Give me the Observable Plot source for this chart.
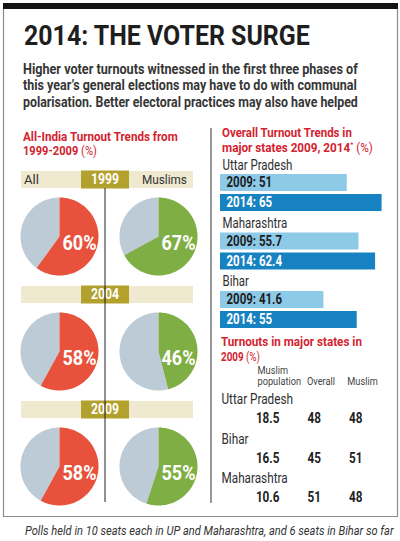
<!DOCTYPE html>
<html>
<head>
<meta charset="utf-8">
<script src="https://cdn.jsdelivr.net/npm/d3@7"></script>
<script src="https://cdn.jsdelivr.net/npm/@observablehq/plot@0.6"></script>
<style>
  html, body { margin: 0; padding: 0; background: #fff; }
  #page { position: relative; width: 400px; height: 541px; overflow: hidden; background: #fff;
          font-family: Roboto, "Liberation Sans", sans-serif; }
  #page svg { position: absolute; margin: 0; }
</style>
</head>
<body>
<div id="page"></div>
<script>
// All-India turnout (%) by general election
const pieYears = ["1999", "2004", "2009"];
const pieGroups = ["All", "Muslims"];
const turnoutAll = [60, 58, 58];
const turnoutMuslims = [67, 46, 55];

// Overall turnout (%) in major states, 2009 vs 2014
const barStates = ["Uttar Pradesh", "Maharashtra", "Bihar"];
const barYears = ["2009", "2014"];
const turnout2009 = [51, 55.7, 41.6];
const turnout2014 = [65, 62.4, 55];

// Turnout (%) in major states in 2009
const tableStates = ["Uttar Pradesh", "Bihar", "Maharashtra"];
const tableKeys = ["population", "overall", "muslim"];
const tableHeaders = ["Muslim\npopulation", "Overall", "Muslim"];
const muslimPopulation = [18.5, 16.5, 10.6];
const overallTurnout2009 = [48, 45, 51];
const muslimTurnout2009 = [48, 51, 48];

const RED = "#e8523c", GREEN = "#7fae45", GREY = "#bdcbd6";
const BAND = "#efe9cf", GOLD = "#b3a12e";
const BLUE_LIGHT = "#8dcae8", BLUE_DARK = "#1782c1";
const HEAD_RED = "#d2232f", INK = "#2e2e2e";
const FONT = "Roboto, 'Liberation Sans', sans-serif";

const page = document.getElementById("page");
function place(node, left, top) {
  node.style.left = left + "px";
  node.style.top = top + "px";
  page.appendChild(node);
  return node;
}
// squeeze one text element horizontally about its own anchor point
function squeeze(t, factor) {
  const x = parseFloat(t.getAttribute("x") || 0);
  const prev = t.getAttribute("transform") || "";
  t.setAttribute("transform", `${prev} translate(${x},0) scale(${factor},1) translate(${-x},0)`);
}
// squeeze every label of a chart to mimic a condensed face
function condense(root, factor) {
  root.querySelectorAll("text").forEach(t => squeeze(t, factor));
}

/* ---------- pies: All vs Muslims, one row per election ---------- */
const pieRows = pieYears.flatMap((year, i) => [
  {year, group: "All", value: turnoutAll[i]},
  {year, group: "Muslims", value: turnoutMuslims[i]}
]);
// closed wedge outline between two percentages, clockwise from 12 o'clock
function wedge(d, from, to, part) {
  const key = `${d.year}-${d.group}-${part}`;
  const steps = Math.max(2, Math.ceil((to - from) * 1.8));
  const pts = [{...d, key, part, px: 0, py: 0}];
  for (let k = 0; k <= steps; ++k) {
    const a = (from + (to - from) * k / steps) / 100 * 2 * Math.PI;
    pts.push({...d, key, part, px: Math.sin(a), py: Math.cos(a)});
  }
  pts.push({...d, key, part, px: 0, py: 0});
  return pts;
}
const wedges = pieRows.flatMap(d => [
  ...wedge(d, d.value, 100, "rest"),
  ...wedge(d, 0, d.value, d.group)
]);

const PIE_TOP = 190;
const pies = Plot.plot({
  width: 210, height: 320,
  marginLeft: 20, marginRight: 13, marginTop: 7, marginBottom: 5,
  style: {background: "transparent", overflow: "visible", fontFamily: FONT},
  x: {domain: [-1, 1], axis: null},
  y: {domain: [-1, 1], axis: null},
  fx: {domain: pieGroups, paddingInner: 21 / 99, paddingOuter: 0, round: false, axis: null},
  fy: {domain: pieYears, paddingInner: 37 / 115, paddingOuter: 0, round: false, axis: null},
  color: {domain: ["All", "Muslims", "rest"], range: [RED, GREEN, GREY]},
  marks: [
    Plot.line(wedges, {fx: "group", fy: "year", x: "px", y: "py", z: "key", fill: "part", stroke: "none"}),
    Plot.text(pieRows, {fx: "group", fy: "year", frameAnchor: "middle", text: d => `${d.value}%`,
      dx: 20, dy: 7, fill: "white", fontSize: 20, fontWeight: "bold"})
  ]
});
place(pies, 0, PIE_TOP);

/* ---------- bars: state turnout 2009 vs 2014 ---------- */
const bars = barStates.flatMap((state, i) => [
  {state, year: "2009", value: turnout2009[i]},
  {state, year: "2014", value: turnout2014[i]}
]);
const barChart = Plot.plot({
  width: 182, height: 182,
  marginLeft: 8, marginRight: 0, marginTop: 24, marginBottom: 4,
  style: {background: "transparent", overflow: "visible", fontFamily: FONT},
  x: {domain: [0, 70], axis: null},
  y: {domain: barYears, paddingInner: 0.15, paddingOuter: 0, round: false, axis: null},
  fy: {domain: barStates, paddingInner: 0.3675, paddingOuter: 0, round: false, axis: null},
  color: {domain: barYears, range: [BLUE_LIGHT, BLUE_DARK]},
  marks: [
    Plot.barX(bars, {fy: "state", y: "year", x: "value", fill: "year"}),
    Plot.text(bars, {filter: d => d.year === barYears[0], fy: "state", y: "year", frameAnchor: "left",
      textAnchor: "start", dx: 6, text: d => `${d.year}: ${d.value}`, fill: "#1d1d1d", fontSize: 14, fontWeight: "bold"}),
    Plot.text(bars, {filter: d => d.year === barYears[1], fy: "state", y: "year", frameAnchor: "left",
      textAnchor: "start", dx: 6, text: d => `${d.year}: ${d.value}`, fill: "white", fontSize: 14, fontWeight: "bold"}),
    Plot.text(barStates, {fy: d => d, frameAnchor: "top-left", textAnchor: "start", lineAnchor: "bottom",
      text: d => d, dx: 2, dy: -5, fontSize: 14, fill: INK})
  ]
});
place(barChart, 212, 150);

/* ---------- table: 2009 turnout by state ---------- */
const cells = tableStates.flatMap((state, i) => [
  {state, key: tableKeys[0], value: muslimPopulation[i]},
  {state, key: tableKeys[1], value: overallTurnout2009[i]},
  {state, key: tableKeys[2], value: muslimTurnout2009[i]}
]);
const headers = tableKeys.map((key, i) => ({key, label: tableHeaders[i]}));
const table = Plot.plot({
  width: 186, height: 150,
  marginLeft: 9, marginRight: 0, marginTop: 22, marginBottom: 10,
  style: {background: "transparent", overflow: "visible", fontFamily: FONT},
  x: {type: "point", domain: tableKeys, range: [67, 150], padding: 0, round: false, axis: null},
  y: {type: "band", domain: tableStates, padding: 0, round: false, axis: null},
  marks: [
    // first header is set flush left, the others centred over their column
    Plot.text(headers.slice(0, 1), {x: "key", text: "label", frameAnchor: "top", lineAnchor: "bottom",
      textAnchor: "start", dx: -22, fontSize: 11, lineHeight: 1, fill: "#444"}),
    Plot.text(headers.slice(1), {x: "key", text: "label", frameAnchor: "top", lineAnchor: "bottom",
      textAnchor: "middle", fontSize: 11, lineHeight: 1, fill: "#444"}),
    Plot.text(tableStates, {y: d => d, text: d => d, frameAnchor: "left", textAnchor: "start",
      lineAnchor: "bottom", fontSize: 14, fill: INK}),
    Plot.text(cells, {x: "key", y: "state", text: d => String(d.value), textAnchor: "end",
      lineAnchor: "bottom", dy: 19, fontSize: 14, fontWeight: "bold", fill: "#222"})
  ]
});
place(table, 212, 362);

condense(pies, 0.9);
condense(barChart, 0.82);
condense(table, 0.84);

/* ---------- frame, headings, year bands and notes ---------- */
const svg = d3.create("svg").attr("width", 400).attr("height", 541)
  .style("left", "0px").style("top", "0px").style("pointer-events", "none")
  .style("font-family", FONT);

const fits = [];
function label(x, y, text, {size = 13, weight = "normal", fill = INK, width, italic = false, anchor = "start"} = {}) {
  const t = svg.append("text").attr("x", x).attr("y", y)
    .attr("font-size", size).attr("font-weight", weight).attr("fill", fill)
    .attr("font-style", italic ? "italic" : "normal").attr("text-anchor", anchor);
  if (text != null) t.text(text);
  if (width) fits.push([t.node(), width]);
  return t;
}

// box
svg.append("rect").attr("x", 3).attr("y", 3).attr("width", 395).attr("height", 6).attr("fill", "#141414");
svg.append("path").attr("d", "M3.5,9V516.5H397.5V9").attr("fill", "none").attr("stroke", "#8c8c8c").attr("stroke-width", 1.2);

// title and deck
label(24, 45, "2014: THE VOTER SURGE", {size: 27, weight: "bold", fill: "#1e1e1e", width: 286});
const deck = [
  "Higher voter turnouts witnessed in the first three phases of",
  "this year\u2019s general elections may have to do with communal",
  "polarisation. Better electoral practices may also have helped"
];
const deckWidths = [335, 334, 335];
deck.forEach((line, i) => label(23, 74 + i * 16.5, line, {size: 15, weight: "bold", fill: "#363636", width: deckWidths[i]}));

// section headings
function heading(x, y, main, tail, width, extra) {
  const t = label(x, y, null, {size: 13, weight: "bold", fill: HEAD_RED, width});
  t.append("tspan").text(main);
  if (extra) extra(t);
  if (tail) t.append("tspan").attr("font-weight", "normal").text(tail);
  return t;
}
heading(23, 141, "All-India Turnout Trends from", null, 155);
heading(23, 155, "1999-2009", " (%)", 74);
heading(222, 137, "Overall Turnout Trends in", null, 130);
heading(222, 152, "major states 2009, 2014", null, 151, t => {
  t.append("tspan").attr("font-size", 8).attr("font-weight", "normal").attr("dy", -5).text("*");
  t.append("tspan").attr("dy", 5).attr("font-weight", "normal").text(" (%)");
});
heading(221, 346, "Turnouts in major states in", null, 141);
heading(221, 361, "2009", " (%)", 39);

// year bands above each row of pies
const fyPie = pies.scale("fy");
pieYears.forEach((year, i) => {
  const top = PIE_TOP + fyPie.apply(year) - 26;
  svg.append("rect").attr("x", 21).attr("y", top).attr("width", 172).attr("height", 17).attr("fill", BAND);
  svg.append("rect").attr("x", 81).attr("y", top - 0.5).attr("width", 48).attr("height", 18).attr("fill", GOLD);
  label(105, top + 13.5, year, {size: 14, weight: "bold", fill: "#fff", width: 28, anchor: "middle"});
  if (i === 0) {
    label(24, top + 13.5, pieGroups[0], {size: 13, fill: "#333", width: 15});
    label(142, top + 13.5, pieGroups[1], {size: 13, fill: "#333", width: 45});
  }
});

// dividers
svg.append("line").attr("x1", 105).attr("x2", 105).attr("y1", 188).attr("y2", 502).attr("stroke", "#222").attr("stroke-width", 1);
svg.append("line").attr("x1", 211).attr("x2", 211).attr("y1", 128).attr("y2", 503).attr("stroke", "#333").attr("stroke-width", 1);

// note
label(25, 535, "Polls held in 10 seats each in UP and Maharashtra, and 6 seats in Bihar so far",
  {size: 12, italic: true, fill: "#333", width: 369});

page.appendChild(svg.node());
// narrow each heading line to its set measure
fits.forEach(([node, width]) => {
  const w = node.getComputedTextLength();
  if (w > 0) squeeze(node, width / w);
});
</script>
</body>
</html>
